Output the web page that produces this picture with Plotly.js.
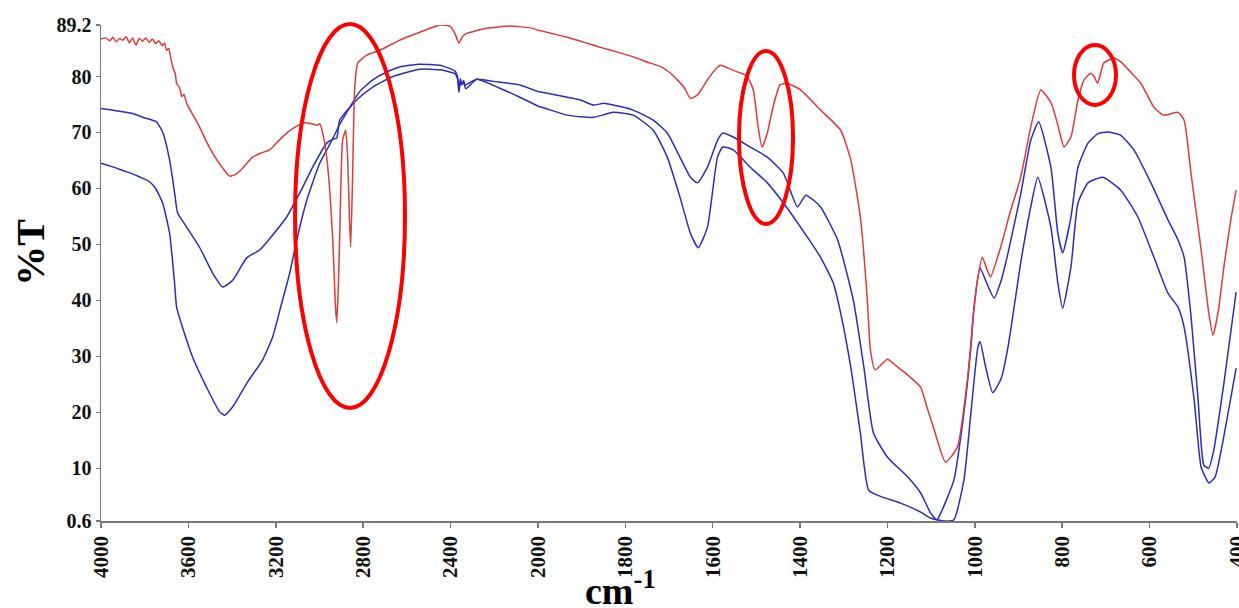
<!DOCTYPE html>
<html>
<head>
<meta charset="utf-8">
<script src="https://cdn.plot.ly/plotly-3.0.1.min.js"></script>
<style>html,body{margin:0;padding:0;background:#fff;}#chart{width:1239px;height:608px;}</style>
</head>
<body>
<div id="chart"></div>
<script>
// ---- Data (wavenumber cm-1, %T) ----
const redWn = [4000,3980,3960,3945,3930,3915,3900,3885,3870,3855,3840,3825,3810,3795,3780,3765,3750,3735,3720,3710,3700,3690,3680,3670,3660,3654,3640,3630,3620,3608,3580,3549,3520,3489,3450,3411,3380,3352,3306,3270,3228,3190,3150,3110,3077,3040,3008,2999,2985,2967,2953,2939,2928,2921,2914,2907,2894,2880,2871,2863,2857,2848,2839,2825,2784,2724,2632,2541,2449,2403,2380,2362,2344,2326,2234,2128,2023,1933,1857,1820,1782,1750,1720,1700,1681,1665,1651,1635,1625,1612,1597,1582,1565,1553,1535,1521,1507,1496,1487,1475,1462,1446,1430,1399,1353,1307,1284,1262,1246,1239,1228,1200,1180,1154,1124,1110,1095,1067,1040,1017,1003,994,983,972,964,941,918,895,872,849,825,809,796,780,764,750,735,727,719,705,682,666,640,620,590,568,535,521,505,482,465,455,443,430,415,402];
const redT  = [86.7,86.9,86.4,87.0,86.2,86.8,86.5,87.1,86.0,86.9,85.6,86.8,86.3,86.9,86.1,86.7,85.9,86.4,85.5,86.0,84.7,85.0,83.2,81.5,80.5,78.8,78.0,76.4,76.8,75.2,73.2,71.0,68.6,66.3,64.0,62.2,62.6,63.6,65.6,66.3,66.9,68.4,69.9,71.0,71.7,71.6,71.3,71.6,69.9,65.6,59.7,50.8,40.0,36.0,42.0,52.0,68.6,70.4,65.6,55.0,49.5,62.7,77.6,82.4,83.8,84.7,86.5,87.9,89.2,89.0,87.7,86.0,87.2,87.7,88.6,89.0,88.6,87.0,85.2,84.4,83.5,82.6,81.8,80.8,79.4,78.0,76.1,76.7,77.8,79.4,81.0,82.0,81.5,81.1,80.6,80.0,77.6,71.0,67.4,69.9,74.5,78.5,78.8,77.6,74.0,70.4,65.1,54.9,40.0,31.1,27.6,29.5,28.3,26.7,24.5,21.0,17.4,11.1,13.8,25.8,37.7,43.6,47.7,45.5,44.2,49.5,56.1,62.0,71.0,77.6,75.2,71.0,67.4,69.2,75.8,79.4,80.6,80.0,78.8,82.4,83.3,82.6,80.5,78.8,74.5,73.1,73.6,72.2,62.5,49.0,38.0,33.8,38.0,46.0,54.0,59.7];

const blueUWn = [4000,3950,3900,3856,3820,3778,3750,3718,3686,3663,3654,3627,3581,3517,3457,3434,3397,3333,3260,3214,3173,3136,3104,3058,2999,2939,2907,2861,2816,2756,2692,2632,2541,2449,2380,2368,2362,2355,2348,2340,2335,2280,2180,2083,1979,1903,1873,1850,1828,1782,1736,1704,1675,1651,1635,1612,1589,1577,1553,1514,1475,1438,1406,1387,1369,1353,1314,1278,1254,1232,1200,1154,1124,1101,1087,1078,1048,1025,1009,1002,988,975,956,940,924,895,872,854,826,810,799,780,764,741,718,696,666,636,597,558,535,521,505,489,476,465,453,430,402];
const blueUT  = [64.5,63.9,63.2,62.6,62.0,61.2,60.0,57.4,52.0,43.0,38.8,35.2,29.9,24.5,20.1,19.5,21.0,25.2,29.4,33.5,39.5,44.9,50.8,57.9,64.5,68.9,71.5,74.5,77.3,79.4,80.8,81.7,82.2,82.0,81.0,80.0,78.0,79.6,78.6,79.3,78.5,79.5,79.0,78.5,77.0,75.8,74.9,75.2,74.9,74.0,72.2,69.9,65.6,62.0,61.0,63.8,68.6,69.9,69.2,67.4,65.6,62.7,56.7,58.8,57.9,56.7,50.8,40.0,28.1,16.3,12.0,8.5,5.6,2.0,0.8,2.0,7.9,19.9,31.7,38.8,45.8,43.5,40.4,43.5,48.5,59.0,68.6,71.9,63.8,52.0,48.5,54.9,63.8,68.1,69.8,70.1,69.5,66.9,61.0,54.4,50.8,47.7,37.0,22.2,10.6,10.0,13.3,25.2,41.5];

const blueLWn = [4000,3950,3900,3856,3800,3746,3718,3686,3663,3649,3608,3549,3489,3443,3397,3333,3274,3214,3150,3090,3031,2967,2939,2921,2907,2830,2756,2664,2541,2449,2380,2368,2362,2355,2348,2340,2330,2280,2180,2083,1995,1933,1873,1828,1782,1736,1704,1675,1651,1633,1612,1589,1577,1553,1514,1475,1438,1399,1353,1324,1307,1284,1262,1243,1216,1170,1124,1101,1067,1048,1025,1009,993,988,975,959,940,924,895,872,856,826,810,799,780,764,741,707,666,627,590,558,535,521,498,482,464,450,436,402];
const blueLT  = [74.3,74.0,73.7,73.4,72.6,71.9,70.1,65.1,59.2,55.6,53.1,49.5,44.9,42.4,43.6,47.6,49.0,51.7,54.9,59.2,63.8,68.1,68.8,69.0,72.2,75.8,78.1,80.0,81.3,81.2,80.5,79.6,77.2,78.8,78.5,79.0,77.8,79.5,78.0,76.3,74.6,73.1,72.7,73.6,73.1,70.4,65.6,58.5,52.0,49.4,53.1,65.6,67.4,66.9,63.8,61.0,57.4,53.1,47.7,43.1,37.7,28.1,16.3,6.1,5.0,3.8,2.2,1.1,0.6,0.8,7.9,19.9,31.7,32.6,28.0,23.5,26.0,31.7,46.7,56.7,62.0,53.1,43.1,38.6,46.0,57.4,61.0,62.0,59.7,54.9,47.7,41.3,38.8,35.2,22.2,10.2,7.4,8.5,13.3,27.9];

const xTicksHigh = [4000,3600,3200,2800,2400];
const xTicksLow  = [2000,1800,1600,1400,1200,1000,800,600,400];
const yTicks     = [0.6,10,20,30,40,50,60,70,80,89.2];
const yTickText  = ['0.6','10','20','30','40','50','60','70','80','89.2'];

// ---- Styling ----
const RED = '#e03a3a';
const BLUE = '#2c2cbf';
const AXIS_GRAY = '#7a7a7a';
const SERIF = 'Liberation Serif';
const tickFont = {family:SERIF, size:21, color:'#111', weight:'bold'};

function pair(wn, t, color) {
  const base = {type:'scatter', mode:'lines', x:wn, y:t, line:{color:color, width:1.5, shape:'spline', smoothing:0.5}, hoverinfo:'x+y', showlegend:false};
  return [Object.assign({}, base, {xaxis:'x', yaxis:'y'}), Object.assign({}, base, {xaxis:'x2', yaxis:'y'})];
}

const data = [].concat(
  pair(blueLWn, blueLT, BLUE),
  pair(blueUWn, blueUT, BLUE),
  pair(redWn, redT, RED)
);

const xCommon = {
  showline:true, linecolor:AXIS_GRAY, linewidth:1.5,
  ticks:'outside', ticklen:5, tickwidth:1.5, tickcolor:AXIS_GRAY,
  showgrid:false, zeroline:false, tickangle:-90, tickfont:tickFont,
  ticklabeloverflow:'allow',
  anchor:'y', fixedrange:true
};

const layout = {
  width:1239, height:608,
  margin:{l:101, r:2, t:25, b:87},
  paper_bgcolor:'#ffffff', plot_bgcolor:'#ffffff',
  showlegend:false,
  xaxis: Object.assign({}, xCommon, {domain:[0,5/13], range:[4000,2000], tickvals:xTicksHigh, ticktext:xTicksHigh.map(String)}),
  xaxis2: Object.assign({}, xCommon, {domain:[5/13,1], range:[2000,400], tickvals:xTicksLow, ticktext:xTicksLow.map(String)}),
  yaxis: {
    range:[0.6,89.2], tickvals:yTicks, ticktext:yTickText,
    showline:true, linecolor:AXIS_GRAY, linewidth:1.5,
    ticks:'outside', ticklen:4, tickwidth:1.5, tickcolor:AXIS_GRAY,
    showgrid:false, zeroline:false, tickfont:Object.assign({}, tickFont, {size:20}),
    ticklabeloverflow:'allow',
    anchor:'x', fixedrange:true
  },
  shapes:[
    {type:'circle', xref:'paper', yref:'paper', x0:0.1708, x1:0.2676, y0:0.2278, y1:1.002, line:{color:'#ff0000', width:4}},
    {type:'circle', xref:'paper', yref:'paper', x0:0.5616, x1:0.6092, y0:0.5988, y1:0.9476, line:{color:'#ff0000', width:4}},
    {type:'circle', xref:'paper', yref:'paper', x0:0.8565, x1:0.8935, y0:0.8387, y1:0.9597, line:{color:'#ff0000', width:4}}
  ],
  annotations:[
    {text:'%T', xref:'paper', yref:'paper', x:-0.062, y:0.542, xanchor:'center', yanchor:'middle', textangle:-90, showarrow:false,
     font:{family:SERIF, size:40, color:'#000', weight:'bold'}},
    {text:'cm<sup>-1</sup>', xref:'paper', yref:'paper', x:0.4577, y:-0.136, xanchor:'center', yanchor:'middle', showarrow:false,
     font:{family:SERIF, size:38, color:'#000', weight:'bold'}}
  ]
};

Plotly.newPlot('chart', data, layout, {displayModeBar:false, staticPlot:true});
</script>
</body>
</html>
